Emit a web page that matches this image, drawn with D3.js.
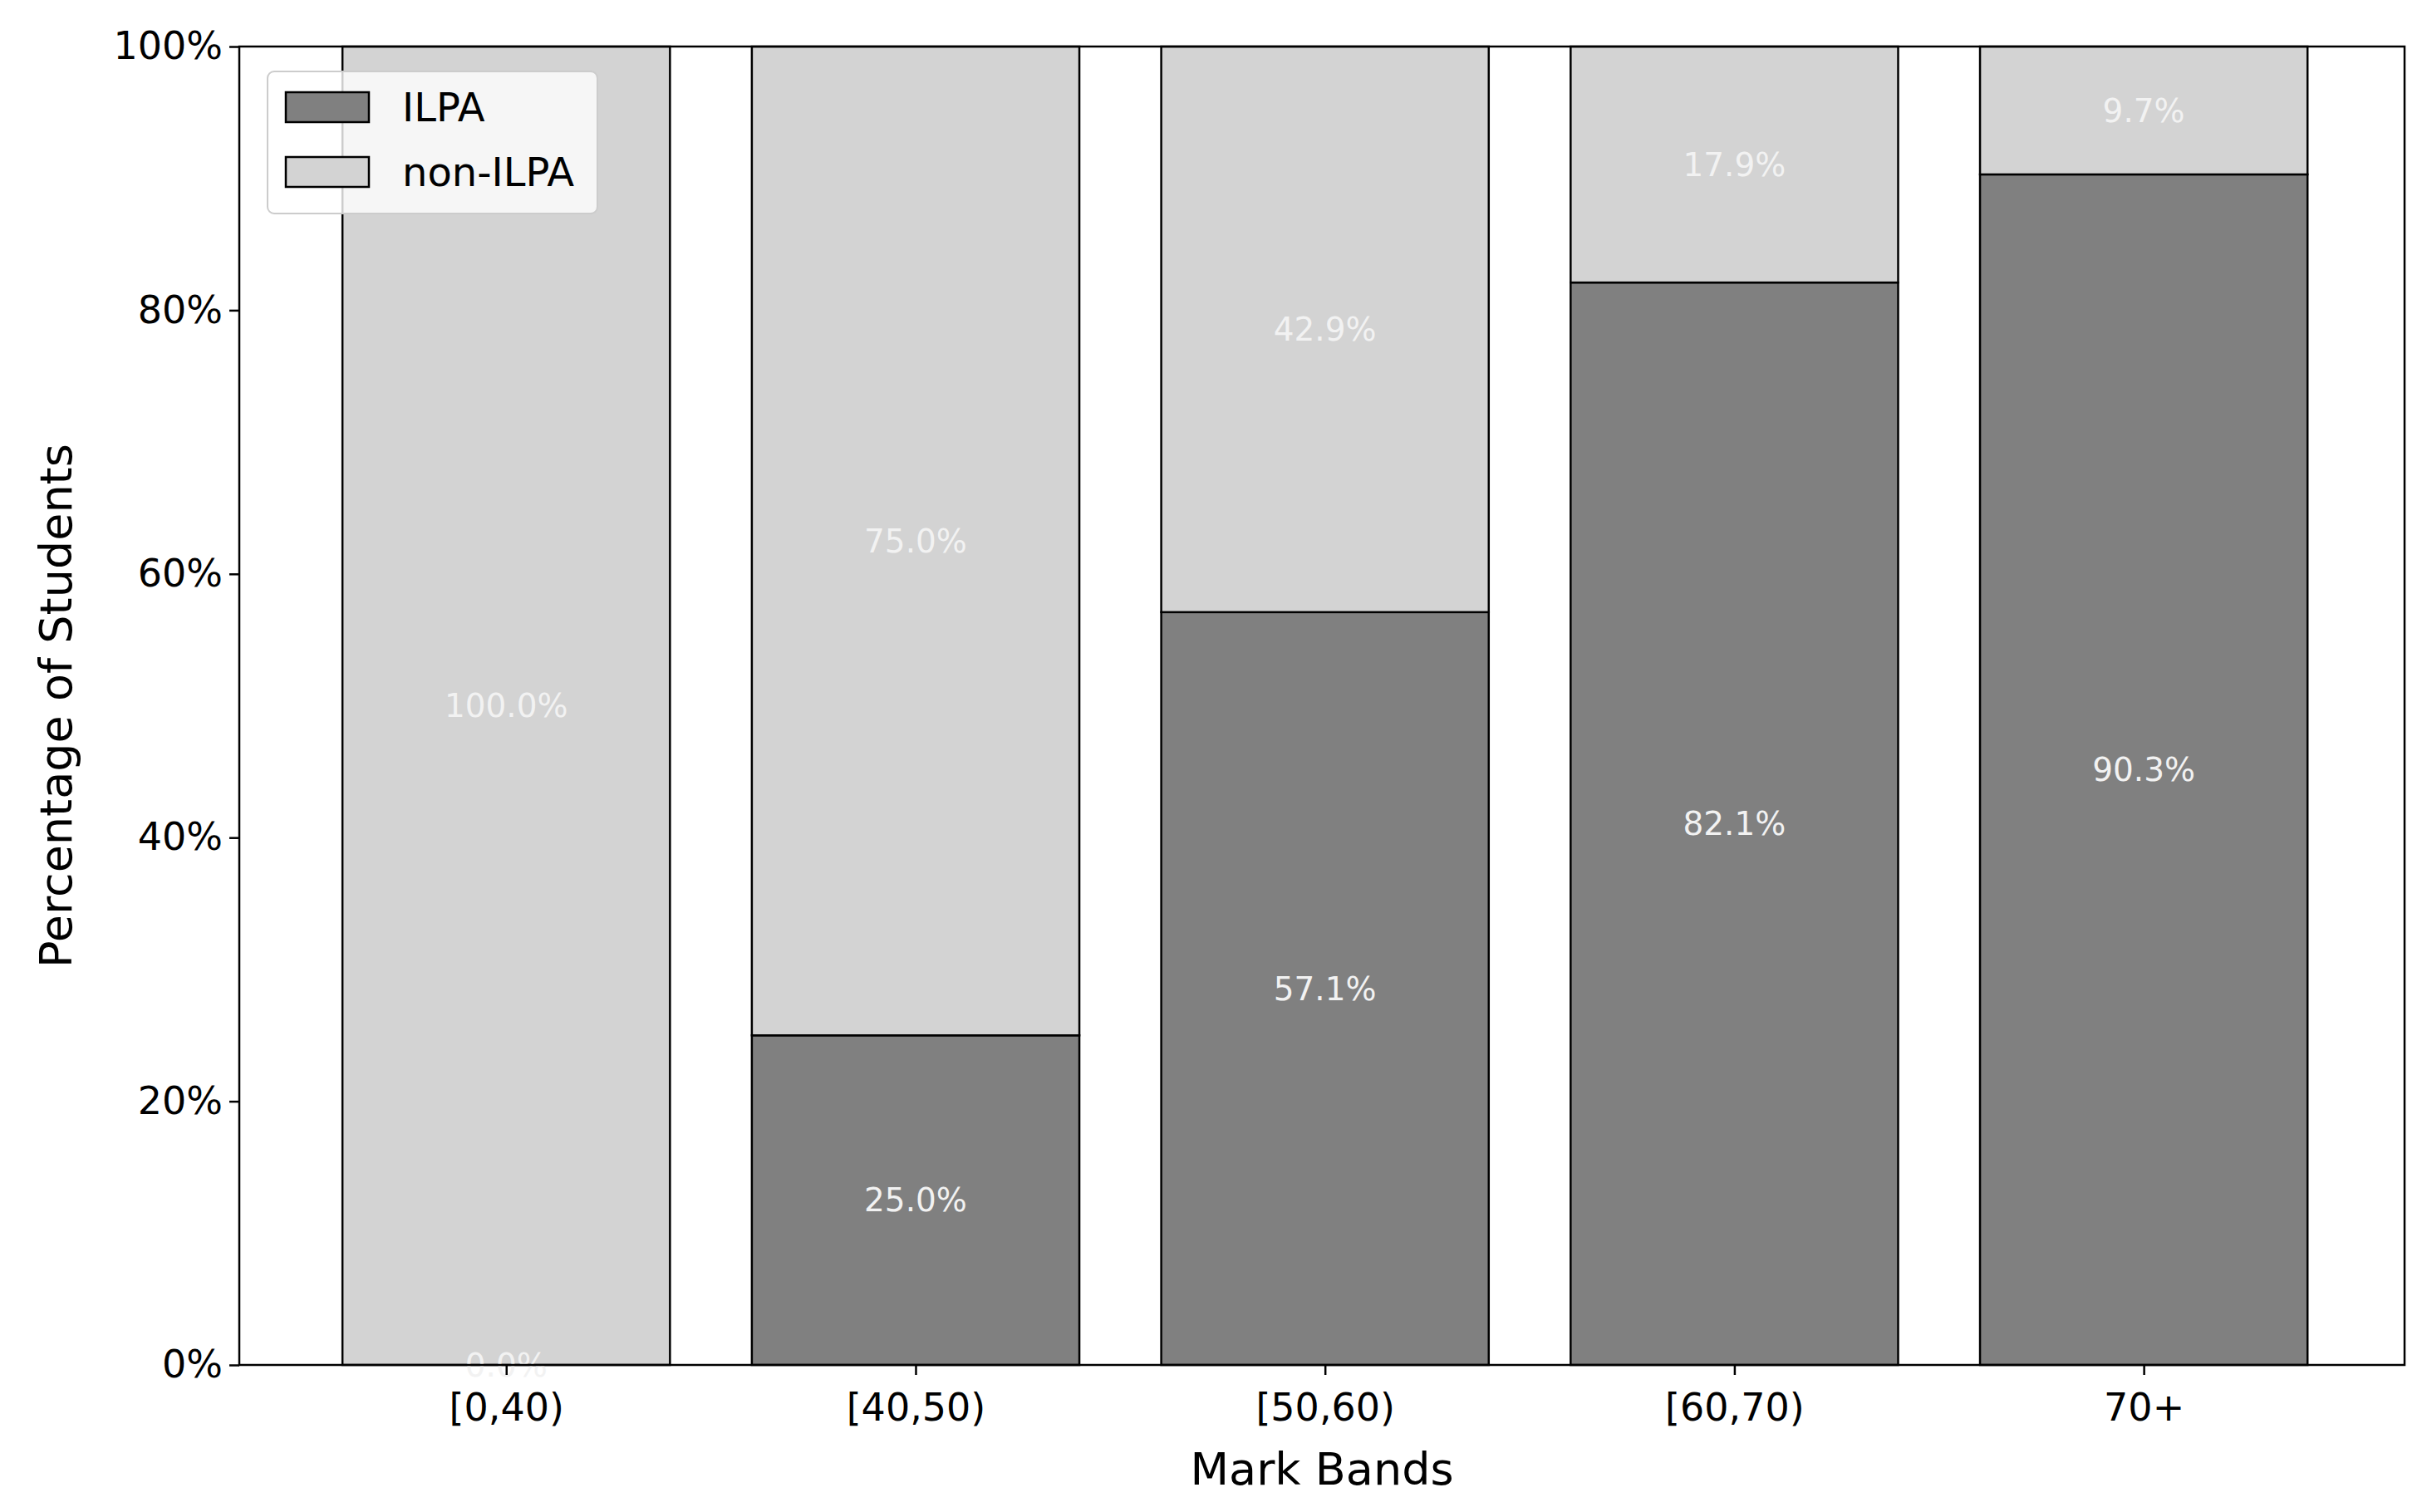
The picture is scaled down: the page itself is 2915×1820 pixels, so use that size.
<!DOCTYPE html>
<html><head><meta charset="utf-8">
<script src="https://cdn.jsdelivr.net/npm/d3@7/dist/d3.min.js"></script>
<style>body{margin:0;background:#fff}text{font-family:"DejaVu Sans",sans-serif}</style>
</head><body><svg id="c" width="2915" height="1820"></svg>
<script>
const categories=["[0,40)","[40,50)","[50,60)","[60,70)","70+"];
const ilpa=[0.0,25.0,57.1,82.1,90.3];
const nonIlpa=[100.0,75.0,42.9,17.9,9.7];
const yTicks=[0,20,40,60,80,100];
const svg=d3.select("#c");
const L=288,R=2894,T=56,B=1643;
const x=d3.scaleLinear().domain([-0.652,4.637]).range([L,R]);
const y=d3.scaleLinear().domain([0,100]).range([B,T]);
const bw=x(0.8)-x(0);
const g=svg.append("g");
categories.forEach((c,i)=>{
  g.append("rect").attr("x",x(i)-bw/2).attr("y",y(ilpa[i])).attr("width",bw).attr("height",y(0)-y(ilpa[i]))
   .attr("fill","#808080").attr("stroke","#000").attr("stroke-width",2.5);
  g.append("rect").attr("x",x(i)-bw/2).attr("y",y(ilpa[i]+nonIlpa[i])).attr("width",bw).attr("height",y(ilpa[i])-y(ilpa[i]+nonIlpa[i]))
   .attr("fill","#d3d3d3").attr("stroke","#000").attr("stroke-width",2.5);
  g.append("text").attr("x",x(i)).attr("y",y(ilpa[i]/2)).attr("dy","0.35em").attr("text-anchor","middle")
   .attr("font-size",39).attr("fill","#f2f2f2").text(ilpa[i].toFixed(1)+"%");
  g.append("text").attr("x",x(i)).attr("y",y(ilpa[i]+nonIlpa[i]/2)).attr("dy","0.35em").attr("text-anchor","middle")
   .attr("font-size",39).attr("fill","#f2f2f2").text(nonIlpa[i].toFixed(1)+"%");
});
const ya=svg.append("g").attr("transform",`translate(${L},0)`).call(d3.axisLeft(y).tickValues(yTicks).tickFormat(d=>d+"%").tickSize(12).tickPadding(8));
const xa=svg.append("g").attr("transform",`translate(0,${B})`).call(d3.axisBottom(x).tickValues(d3.range(categories.length)).tickFormat(i=>categories[i]).tickSize(12).tickPadding(22));
[ya,xa].forEach(a=>{a.select(".domain").remove();a.selectAll("text").attr("font-size",46).attr("fill","#000");a.selectAll("line").attr("stroke-width",2.5);});
svg.append("rect").attr("x",L).attr("y",T).attr("width",R-L).attr("height",B-T).attr("fill","none").attr("stroke","#000").attr("stroke-width",2.5);
svg.append("text").attr("x",(L+R)/2).attr("y",1787).attr("text-anchor","middle").attr("font-size",54).text("Mark Bands");
svg.append("text").attr("transform",`translate(86,${(T+B)/2}) rotate(-90)`).attr("text-anchor","middle").attr("font-size",54).text("Percentage of Students");
// legend
const lg=svg.append("g");
lg.append("rect").attr("x",322).attr("y",86).attr("width",397).attr("height",171).attr("rx",8)
  .attr("fill","#fff").attr("fill-opacity",0.8).attr("stroke","#ccc").attr("stroke-width",2);
[["ILPA","#808080"],["non-ILPA","#d3d3d3"]].forEach((d,i)=>{
  lg.append("rect").attr("x",344).attr("y",111+i*78).attr("width",100).attr("height",36).attr("fill",d[1]).attr("stroke","#000").attr("stroke-width",2.5);
  lg.append("text").attr("x",484).attr("y",129+i*78).attr("dy","0.35em").attr("font-size",48).text(d[0]);
});
</script></body></html>
